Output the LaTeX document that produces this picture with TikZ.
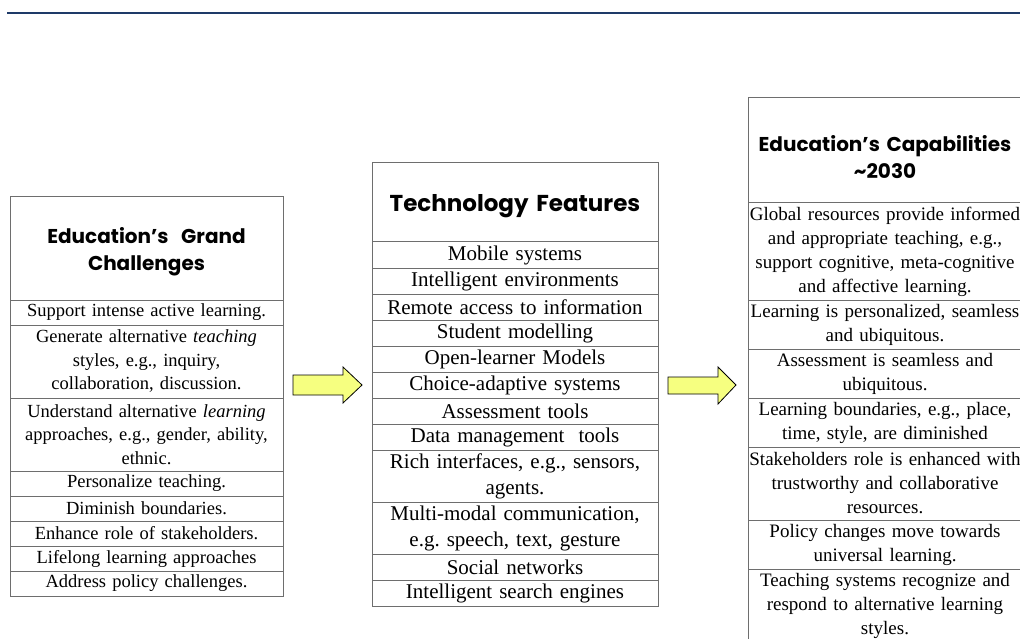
\documentclass[tikz,border=0pt]{standalone}
\usepackage{fontspec}
\setmainfont{Liberation Serif}
\newfontfamily\headfont{Poppins}
\usetikzlibrary{positioning}
\frenchspacing

\definecolor{rulegray}{RGB}{110,110,110}
\definecolor{arrowyellow}{RGB}{246,255,128}
\definecolor{topnavy}{RGB}{30,58,104}

\begin{document}
\begin{tikzpicture}[x=1pt, y=-1pt,
    cell/.style={draw=rulegray, line width=1pt, outer sep=0pt, inner sep=0pt, align=center},
    lcell/.style={cell, text width=273pt, minimum height=#1, font=\fontsize{18.5}{23.5}\selectfont},
    mcell/.style={cell, text width=286pt, minimum height=#1, font=\fontsize{21}{26}\selectfont},
    rcell/.style={cell, text width=274pt, minimum height=#1, font=\fontsize{19}{24}\selectfont},
    headtext/.style={font=\headfont\bfseries\fontsize{20}{27}\selectfont},
    blockarrow/.style={draw=black, line width=0.8pt, fill=arrowyellow, line join=miter}]
    \useasboundingbox (0,0) rectangle (1020,639);

    % linka nahore
    \draw[topnavy, line width=2.5pt] (7,13) -- (1020,13);

    % grand challenges
    \node[lcell=103pt, headtext, anchor=north] (gc) at (146.5,197) {\rule{0pt}{22pt}Education’s \kern0.3em Grand\\Challenges};
    \node[lcell=25pt, below=0pt of gc] (gc1) {Support intense active learning.};
    \node[lcell=73pt, below=0pt of gc1] (gc2) {Generate alternative \emph{teaching}\\styles, e.g., inquiry,\\collaboration, discussion.};
    \node[lcell=73pt, below=0pt of gc2] (gc3) {Understand alternative \emph{learning}\\approaches, e.g., gender, ability,\\ethnic.};
    \node[lcell=25pt, below=0pt of gc3] (gc4) {Personalize teaching.};
    \node[lcell=25pt, below=0pt of gc4] (gc5) {Diminish boundaries.};
    \node[lcell=25pt, below=0pt of gc5] (gc6) {Enhance role of stakeholders.};
    \node[lcell=25pt, below=0pt of gc6] (gc7) {Lifelong learning approaches};
    \node[lcell=25pt, below=0pt of gc7] (gc8) {Address policy challenges.};

    % technology features
    \node[mcell=79pt, headtext, font=\headfont\bfseries\fontsize{23}{27}\selectfont, anchor=north] (tf) at (515,163) {\rule{0pt}{24pt}Technology Features};
    \node[mcell=26pt, below=0pt of tf] (tf1) {Mobile systems};
    \node[mcell=26pt, below=0pt of tf1] (tf2) {Intelligent environments};
    \node[mcell=26pt, below=0pt of tf2] (tf3) {Remote access to information};
    \node[mcell=26pt, below=0pt of tf3] (tf4) {Student modelling};
    \node[mcell=26pt, below=0pt of tf4] (tf5) {Open-learner Models};
    \node[mcell=26pt, below=0pt of tf5] (tf6) {Choice-adaptive systems};
    \node[mcell=26pt, below=0pt of tf6] (tf7) {Assessment tools};
    \node[mcell=26pt, below=0pt of tf7] (tf8) {Data management\ \ tools};
    \node[mcell=52pt, below=0pt of tf8] (tf9) {Rich interfaces, e.g., sensors,\\agents.};
    \node[mcell=52pt, below=0pt of tf9] (tf10) {Multi-modal communication,\\e.g. speech, text, gesture};
    \node[mcell=26pt, below=0pt of tf10] (tf11) {Social networks};
    \node[mcell=26pt, below=0pt of tf11] (tf12) {Intelligent search engines};

    % capabilities 2030
    \node[rcell=105pt, headtext, anchor=north] (ec) at (885,98) {\rule{0pt}{30pt}Education’s Capabilities\\\textasciitilde2030};
    \node[rcell=97pt, below=0pt of ec] (ec1) {Global resources provide informed\\and appropriate teaching, e.g.,\\support cognitive, meta-cognitive\\and affective learning.};
    \node[rcell=49pt, below=0pt of ec1] (ec2) {Learning is personalized, seamless\\and ubiquitous.};
    \node[rcell=49pt, below=0pt of ec2] (ec3) {Assessment is seamless and\\ubiquitous.};
    \node[rcell=49pt, below=0pt of ec3] (ec4) {Learning boundaries, e.g., place,\\time, style, are diminished};
    \node[rcell=73pt, below=0pt of ec4] (ec5) {Stakeholders role is enhanced with\\trustworthy and collaborative\\resources.};
    \node[rcell=49pt, below=0pt of ec5] (ec6) {Policy changes move towards\\universal learning.};
    \node[rcell=73pt, below=0pt of ec6] (ec7) {Teaching systems recognize and\\respond to alternative learning\\styles.};

    % sipky
    \draw[blockarrow] (293,375) -- (343,375) -- (343,367) -- (362,385) -- (343,403) -- (343,395) -- (293,395) -- cycle;
    \draw[blockarrow] (668,377) -- (718,377) -- (718,367) -- (736,385) -- (718,404) -- (718,394) -- (668,394) -- cycle;
\end{tikzpicture}
\end{document}
